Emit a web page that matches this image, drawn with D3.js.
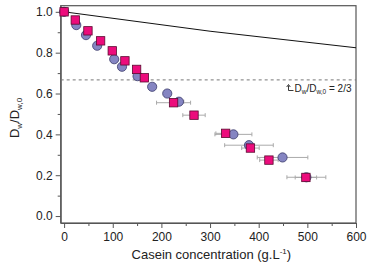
<!DOCTYPE html>
<html>
<head>
<meta charset="utf-8">
<script src="https://cdn.jsdelivr.net/npm/d3@7"></script>
<style>
  body { margin: 0; background: #fff; }
  svg { display: block; }
</style>
</head>
<body>
<div class="chart"></div>
<script>
// casein concentration (g/L) and Dw/Dw,0
circleX   = [0, 25, 45, 68, 103, 119, 151, 181, 212, 236, 348, 380, 449, 498];
circleY   = [1.0, 0.935, 0.886, 0.834, 0.768, 0.731, 0.685, 0.633, 0.60, 0.56, 0.40, 0.347, 0.287, 0.19];
circleErr = [0, 0, 0, 0, 0, 0, 0, 0, 0, 10, 38, 50, 52, 40];

squareX   = [0, 23, 49, 75, 99, 125, 149, 165, 225, 267, 332, 383, 421, 497];
squareY   = [1.0, 0.96, 0.907, 0.858, 0.809, 0.76, 0.718, 0.677, 0.555, 0.494, 0.405, 0.333, 0.274, 0.189];
squareErr = [0, 0, 0, 0, 0, 0, 0, 0, 35, 23, 20, 18, 19, 22];

lineX = [0, 300, 600];
lineY = [1.0, 0.905, 0.824];

threshold = 2/3;

xTicks = [0, 100, 200, 300, 400, 500, 600];
yTicks = [0.0, 0.2, 0.4, 0.6, 0.8, 1.0];

width = 367;
height = 267;
margin = ({top: 5.7, right: 11, bottom: 44, left: 60.7});

svg = d3.select('.chart').append('svg')
    .attr("width", width)
    .attr("height", height)
    .style("font-family", "'Liberation Sans', Arial, sans-serif");

scaleX = d3.scaleLinear()
    .domain([-7, 600])
    .range([margin.left, width - margin.right]);

scaleY = d3.scaleLinear()
    .domain([-0.034, 1.03])
    .range([height - margin.bottom, margin.top]);

axisColor = "#555";

// minor ticks
svg.append("g")
    .attr("transform", `translate(0, ${height - margin.bottom})`)
    .call(d3.axisBottom(scaleX).tickValues(d3.range(50, 600, 100)).tickSize(3).tickFormat(""))
    .call(g => g.select(".domain").remove());
svg.append("g")
    .attr("transform", `translate(${margin.left}, 0)`)
    .call(d3.axisLeft(scaleY).tickValues(d3.range(0.1, 1.0, 0.2)).tickSize(3).tickFormat(""))
    .call(g => g.select(".domain").remove());

xAxis = g => g
    .attr("transform", `translate(0, ${height - margin.bottom})`)
    .call(d3.axisBottom(scaleX).tickValues(xTicks).tickSize(5).tickSizeOuter(0).tickPadding(4))

yAxis = g => g
    .attr("transform", `translate(${margin.left}, 0)`)
    .call(d3.axisLeft(scaleY).tickValues(yTicks).tickSize(5).tickSizeOuter(0).tickPadding(3)
      .tickFormat(d3.format(".1f")))

svg.append("g").call(xAxis).style("font-size", "12px");
svg.append("g").call(yAxis).style("font-size", "12px");

svg.selectAll(".tick line").attr("stroke", axisColor);
svg.selectAll(".domain").attr("stroke", axisColor);
svg.selectAll(".tick text").attr("fill", "#222");

// frame
svg.append("rect")
    .attr("x", margin.left)
    .attr("y", margin.top)
    .attr("width", width - margin.right - margin.left)
    .attr("height", height - margin.bottom - margin.top)
    .attr("fill", "none")
    .attr("stroke", axisColor)
    .attr("stroke-width", 1.2);

// dashed 2/3 line
svg.append("line")
    .attr("x1", margin.left).attr("x2", width - margin.right)
    .attr("y1", scaleY(threshold)).attr("y2", scaleY(threshold))
    .attr("stroke", "#777")
    .attr("stroke-dasharray", "3,3");

// solid reference curve
line = d3.line().x(d => scaleX(d[0])).y(d => scaleY(d[1]));
svg.append("path")
    .datum(d3.zip(lineX, lineY))
    .attr("d", line)
    .attr("fill", "none")
    .attr("stroke", "#111")
    .attr("stroke-width", 1);

// error bars
function errBars(xs, ys, es) {
  pts = d3.range(xs.length).filter(i => es[i] > 0);
  g = svg.append("g").attr("stroke", "#aaa").attr("stroke-width", 1);
  g.selectAll("line.h").data(pts).join("line")
    .attr("x1", i => scaleX(xs[i] - es[i])).attr("x2", i => scaleX(xs[i] + es[i]))
    .attr("y1", i => scaleY(ys[i])).attr("y2", i => scaleY(ys[i]));
  g.selectAll("line.l").data(pts).join("line")
    .attr("x1", i => scaleX(xs[i] - es[i])).attr("x2", i => scaleX(xs[i] - es[i]))
    .attr("y1", i => scaleY(ys[i]) - 2).attr("y2", i => scaleY(ys[i]) + 2);
  g.selectAll("line.r").data(pts).join("line")
    .attr("x1", i => scaleX(xs[i] + es[i])).attr("x2", i => scaleX(xs[i] + es[i]))
    .attr("y1", i => scaleY(ys[i]) - 2).attr("y2", i => scaleY(ys[i]) + 2);
}
errBars(circleX, circleY, circleErr);
errBars(squareX, squareY, squareErr);

// circles
svg.append("g").selectAll("circle")
    .data(d3.range(circleX.length))
    .join("circle")
    .attr("cx", i => scaleX(circleX[i]))
    .attr("cy", i => scaleY(circleY[i]))
    .attr("r", 4.6)
    .attr("fill", "#8585c2")
    .attr("stroke", "#3a3a6a")
    .attr("stroke-width", 0.8);

// squares
sq = 8.4;
svg.append("g").selectAll("rect")
    .data(d3.range(squareX.length))
    .join("rect")
    .attr("x", i => scaleX(squareX[i]) - sq/2)
    .attr("y", i => scaleY(squareY[i]) - sq/2)
    .attr("width", sq)
    .attr("height", sq)
    .attr("fill", "#ec0c7c")
    .attr("stroke", "#5a0a30")
    .attr("stroke-width", 0.8);

// annotation for the dashed line
ax = 288.5; ay = 90.5;
svg.append("path")
    .attr("d", `M${ax},${ay - 5}V${ay}H${ax + 5}`)
    .attr("fill", "none").attr("stroke", "#222").attr("stroke-width", 0.9);
svg.append("path")
    .attr("d", `M${ax - 1.8},${ay - 3.5}L${ax},${ay - 6}L${ax + 1.8},${ay - 3.5}`)
    .attr("fill", "none").attr("stroke", "#222").attr("stroke-width", 0.9);

ann = svg.append("text")
    .attr("x", 294.5).attr("y", 92)
    .attr("font-size", "10px")
    .attr("fill", "#222");
ann.append("tspan").text("D");
ann.append("tspan").attr("font-size", "6.5px").attr("dy", 2).text("w");
ann.append("tspan").attr("dy", -2).text("/D");
ann.append("tspan").attr("font-size", "6.5px").attr("dy", 2).text("w,0");
ann.append("tspan").attr("dy", -2).text(" = 2/3");

// axis titles
xl = svg.append("text")
    .attr("x", (margin.left + width - margin.right) / 2 + 3)
    .attr("y", 259)
    .attr("text-anchor", "middle")
    .attr("font-size", "13px")
    .attr("fill", "#222");
xl.append("tspan").text("Casein concentration (g.L");
xl.append("tspan").attr("font-size", "8px").attr("dy", -5).text("-1");
xl.append("tspan").attr("dy", 5).text(")");

yl = svg.append("text")
    .attr("transform", `translate(19, 118) rotate(-90)`)
    .attr("text-anchor", "middle")
    .attr("font-size", "13px")
    .attr("fill", "#222");
yl.append("tspan").text("D");
yl.append("tspan").attr("font-size", "8px").attr("dy", 3).text("w");
yl.append("tspan").attr("dy", -3).text("/D");
yl.append("tspan").attr("font-size", "8px").attr("dy", 3).text("w,0");
</script>
</body>
</html>
